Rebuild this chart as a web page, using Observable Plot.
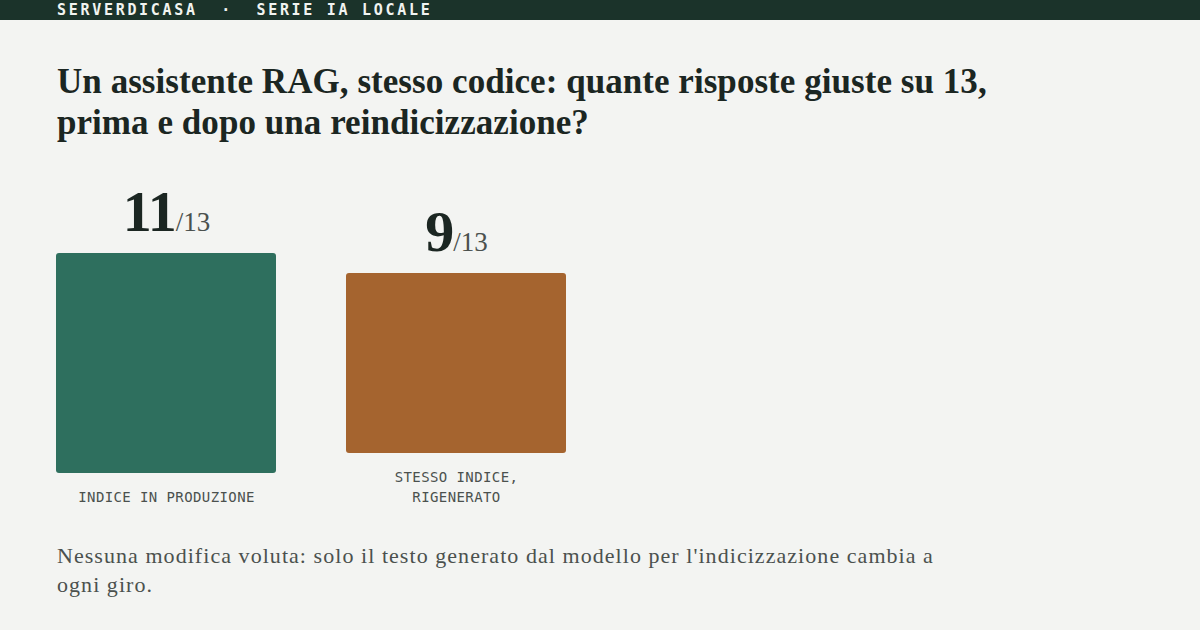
<!DOCTYPE html>
<html>
<head>
<meta charset="utf-8">
<script src="https://cdn.jsdelivr.net/npm/d3@7"></script>
<script src="https://cdn.jsdelivr.net/npm/@observablehq/plot@0.6"></script>
<style>
  html, body { margin: 0; padding: 0; }
  body { width: 1200px; height: 630px; overflow: hidden; background: #f3f4f2; position: relative; }
  .banner { position: absolute; top: 0; left: 0; width: 1200px; height: 20px; background: #1b332a; color: #f1f3f0;
    font: bold 15px "DejaVu Sans Mono", monospace; letter-spacing: 2.7px; line-height: 20px; padding-left: 57px; box-sizing: border-box; white-space: pre; }
  h1 { position: absolute; top: 61px; left: 57px; margin: 0; width: 980px; font: bold 35px/41px "Liberation Serif", serif; letter-spacing: 0.05px; color: #1b2622; }
  #chart { position: absolute; top: 160px; left: 0; }
  .caption { position: absolute; top: 541px; left: 57px; width: 900px; margin: 0; font: 22px/29px "Liberation Serif", serif; letter-spacing: 1.05px; color: #4b514e; }
</style>
</head>
<body>
<div class="banner">SERVERDICASA  ·  SERIE IA LOCALE</div>
<h1>Un assistente RAG, stesso codice: quante risposte giuste su 13, prima e dopo una reindicizzazione?</h1>
<div id="chart"></div>
<p class="caption">Nessuna modifica voluta: solo il testo generato dal modello per l'indicizzazione cambia a ogni giro.</p>
<script>
const labels = ["INDICE IN PRODUZIONE", "STESSO INDICE,\nRIGENERATO"];
const correct = [11, 9];
const total = 13;
const colors = ["#2e6f5e", "#a5642f"];

const data = labels.map((label, i) => ({ label, value: correct[i], color: colors[i], lines: label.split("\n").length }));
const lineStep = 20;

const marks = data.flatMap(d => {
  const shift = -(d.lines - 1) * lineStep;
  return [
    Plot.barY([d], { x: "label", y: "value", fill: "color", rx: 3, dy: shift }),
    Plot.text([d], { x: "label", y: "value", text: v => `${v.value}/${total}`, dy: shift - 23, lineAnchor: "bottom",
      fontFamily: "Liberation Serif", fontWeight: "bold", fontSize: 58, fill: "#1b2622" })
  ];
});

const chart = Plot.plot({
  width: 640,
  height: 360,
  marginLeft: 56,
  marginRight: 74,
  marginTop: 53,
  marginBottom: 47,
  style: { background: "transparent", overflow: "visible" },
  x: { domain: labels, paddingInner: 70 / 290, paddingOuter: 0, axis: null },
  y: { domain: [0, total], axis: null },
  color: { type: "identity" },
  marks: [
    ...marks,
    Plot.text(data, { x: "label", y: 0, text: "label", dy: 28, lineAnchor: "bottom", lineHeight: 20 / 14,
      fontFamily: "DejaVu Sans Mono", fontSize: 14, fill: "#4b514e" })
  ]
});

// split the score texts into a big value and a small "/13"
chart.querySelectorAll("text").forEach(t => {
  const s = t.textContent;
  if (/^\d+\/\d+$/.test(s)) {
    const [a, b] = s.split("/");
    t.textContent = "";
    const ns = "http://www.w3.org/2000/svg";
    const t1 = document.createElementNS(ns, "tspan");
    t1.textContent = a;
    t1.setAttribute("letter-spacing", "-1px");
    const t2 = document.createElementNS(ns, "tspan");
    t2.textContent = "/" + b;
    t2.setAttribute("font-size", 27);
    t2.setAttribute("font-weight", "normal");
    t2.setAttribute("fill", "#4b514e");
    t.append(t1, t2);
  }
});
chart.querySelectorAll("text").forEach(t => { if (t.closest("g[font-family='DejaVu Sans Mono']") || t.getAttribute("font-family") === "DejaVu Sans Mono") t.setAttribute("letter-spacing", "0.4px"); });
document.getElementById("chart").append(chart);
</script>
</body>
</html>
